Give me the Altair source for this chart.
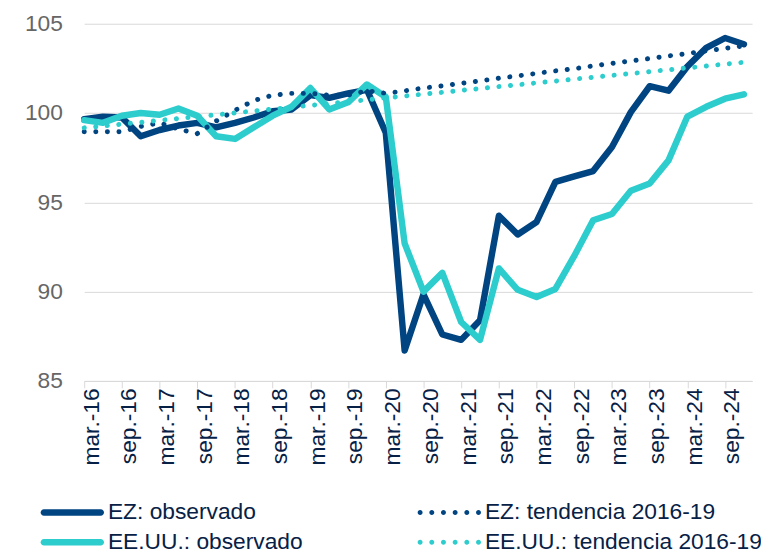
import json
import altair as alt
import pandas as pd

# ---------------- data ----------------
quarters = ["mar.-16", "jun.-16", "sep.-16", "dic.-16", "mar.-17", "jun.-17", "sep.-17", "dic.-17",
            "mar.-18", "jun.-18", "sep.-18", "dic.-18", "mar.-19", "jun.-19", "sep.-19", "dic.-19",
            "mar.-20", "jun.-20", "sep.-20", "dic.-20", "mar.-21", "jun.-21", "sep.-21", "dic.-21",
            "mar.-22", "jun.-22", "sep.-22", "dic.-22", "mar.-23", "jun.-23", "sep.-23", "dic.-23",
            "mar.-24", "jun.-24", "sep.-24", "dic.-24"]

x_labels = ["mar.-16", "sep.-16", "mar.-17", "sep.-17", "mar.-18", "sep.-18", "mar.-19", "sep.-19",
            "mar.-20", "sep.-20", "mar.-21", "sep.-21", "mar.-22", "sep.-22", "mar.-23", "sep.-23",
            "mar.-24", "sep.-24"]

ez_obs = [99.65, 99.8, 99.75, 98.7, 99.05, 99.3, 99.45, 99.2, 99.45, 99.75, 100.1, 100.2,
          101.0, 100.85, 101.1, 101.3, 98.9, 86.7, 89.85, 87.6, 87.3, 88.4, 94.25, 93.2,
          93.9, 96.15, 96.45, 96.75, 98.1, 100.05, 101.5, 101.25, 102.6, 103.65, 104.2, 103.85]

us_obs = [99.6, 99.45, 99.85, 100.0, 99.9, 100.25, 99.85, 98.7, 98.55, 99.2, 99.85, 100.35,
          101.4, 100.2, 100.6, 101.6, 100.9, 92.7, 90.0, 91.05, 88.3, 87.3, 91.3, 90.1,
          89.7, 90.15, 92.0, 94.0, 94.35, 95.65, 96.05, 97.35, 99.8, 100.35, 100.8, 101.05]

ez_trend = [98.95, 98.95, 98.95, 99.25, 99.45, 99.1, 98.85, 99.55, 100.15, 100.7, 101.0, 101.1,
            101.1, 101.0, 101.0, 101.25, 101.1, 101.24, 101.4, 101.52, 101.66, 101.8, 101.95, 102.08,
            102.22, 102.36, 102.48, 102.64, 102.78, 102.92, 103.05, 103.2, 103.33, 103.48, 103.62, 103.76]

us_trend = [99.17, 99.27, 99.38, 99.48, 99.59, 99.69, 99.8, 99.9, 100.01, 100.11, 100.22, 100.32,
            100.43, 100.53, 100.64, 100.74, 100.85, 100.95, 101.06, 101.16, 101.27, 101.37, 101.48, 101.58,
            101.69, 101.79, 101.9, 102.0, 102.11, 102.21, 102.32, 102.42, 102.53, 102.63, 102.74, 102.84]

series_names = ["EZ: observado", "EZ: tendencia 2016-19",
                "EE.UU.: observado", "EE.UU.: tendencia 2016-19"]

# ---------------- styling ----------------
NAVY = "#004481"
TURQ = "#2DCCCD"
TXT = "#072146"
GRAY_TXT = "#666666"
GRID = "#D9D9D9"
FONT = "Liberation Sans, Arial, sans-serif"
FS = 23

rows = []
for name, vals in zip(series_names, [ez_obs, ez_trend, us_obs, us_trend]):
    for i, (q, v) in enumerate(zip(quarters, vals)):
        rows.append({"series": name, "q": q, "t": 3 * i, "v": v})
df = pd.DataFrame(rows)

label_expr = json.dumps(x_labels) + "[round(datum.value / 6)]"

X = alt.X("t:Q",
          scale=alt.Scale(domain=[0, 106.3], nice=False, zero=False),
          axis=alt.Axis(values=list(range(0, 103, 6)), labelExpr=label_expr, labelAngle=-90,
                        labelFontSize=FS, labelColor=TXT, labelFont=FONT, tickSize=7,
                        tickColor=GRID, domainColor=GRID, labelPadding=0, labelOffset=7,
                        grid=False, title=None, labelOverlap=False))
Y = alt.Y("v:Q",
          scale=alt.Scale(domain=[85, 105], nice=False, zero=False),
          axis=alt.Axis(values=[85, 90, 95, 100, 105], labelFontSize=FS, labelColor=GRAY_TXT,
                        labelFont=FONT, grid=True, gridColor=GRID, domain=False, ticks=False,
                        labelPadding=22, title=None))

base = alt.Chart(df)


def line(name, color, width, dash=None):
    mk = dict(color=color, strokeWidth=width, strokeCap="round", strokeJoin="round")
    if dash:
        mk["strokeDash"] = dash
    return base.transform_filter(alt.datum.series == name).mark_line(**mk).encode(x=X, y=Y)


# legend symbol paths (unit coordinates, scaled by the legend symbol size)
r = 0.206
bar = (f"M-0.794,-{r} L2.794,-{r} A{r},{r} 0 0 1 2.794,{r} "
       f"L-0.794,{r} A{r},{r} 0 0 1 -0.794,-{r} Z")
rd = 0.156
dots = " ".join(
    f"M{c - rd:.3f},0 A{rd},{rd} 0 1 0 {c + rd:.3f},0 A{rd},{rd} 0 1 0 {c - rd:.3f},0 Z"
    for c in [-0.844, -0.106, 0.631, 1.369, 2.106, 2.844])

LEG = alt.Legend(title=None, orient="none", legendX=-44, legendY=478, columns=2,
                 direction="horizontal",
                 symbolSize=1024, symbolStrokeWidth=0, symbolOpacity=1, symbolOffset=0,
                 labelFontSize=FS, labelColor=TXT, labelFont=FONT, labelOffset=36,
                 columnPadding=116, rowPadding=2, padding=0, labelLimit=500)

legend_layer = base.mark_point(filled=True, size=1).encode(
    x=X, y=Y,
    color=alt.Color("series:N", scale=alt.Scale(domain=series_names,
                                                range=[NAVY, NAVY, TURQ, TURQ]), legend=LEG),
    shape=alt.Shape("series:N", scale=alt.Scale(domain=series_names,
                                                range=[bar, dots, bar, dots]), legend=LEG),
    opacity=alt.value(0),
)

chart = alt.layer(
    line("EZ: observado", NAVY, 6.5),
    line("EE.UU.: observado", TURQ, 6.5),
    line("EZ: tendencia 2016-19", NAVY, 5, [0.1, 11.6]),
    line("EE.UU.: tendencia 2016-19", TURQ, 5, [0.1, 11.6]),
    legend_layer,
).properties(
    width=675, height=361,
    autosize=alt.AutoSizeParams(type="none"),
    padding={"left": 77, "top": 13, "right": 9, "bottom": 171},
    background="white",
).configure_view(stroke=None)

chart.save("out.html", embed_options={"renderer": "svg", "actions": False})
